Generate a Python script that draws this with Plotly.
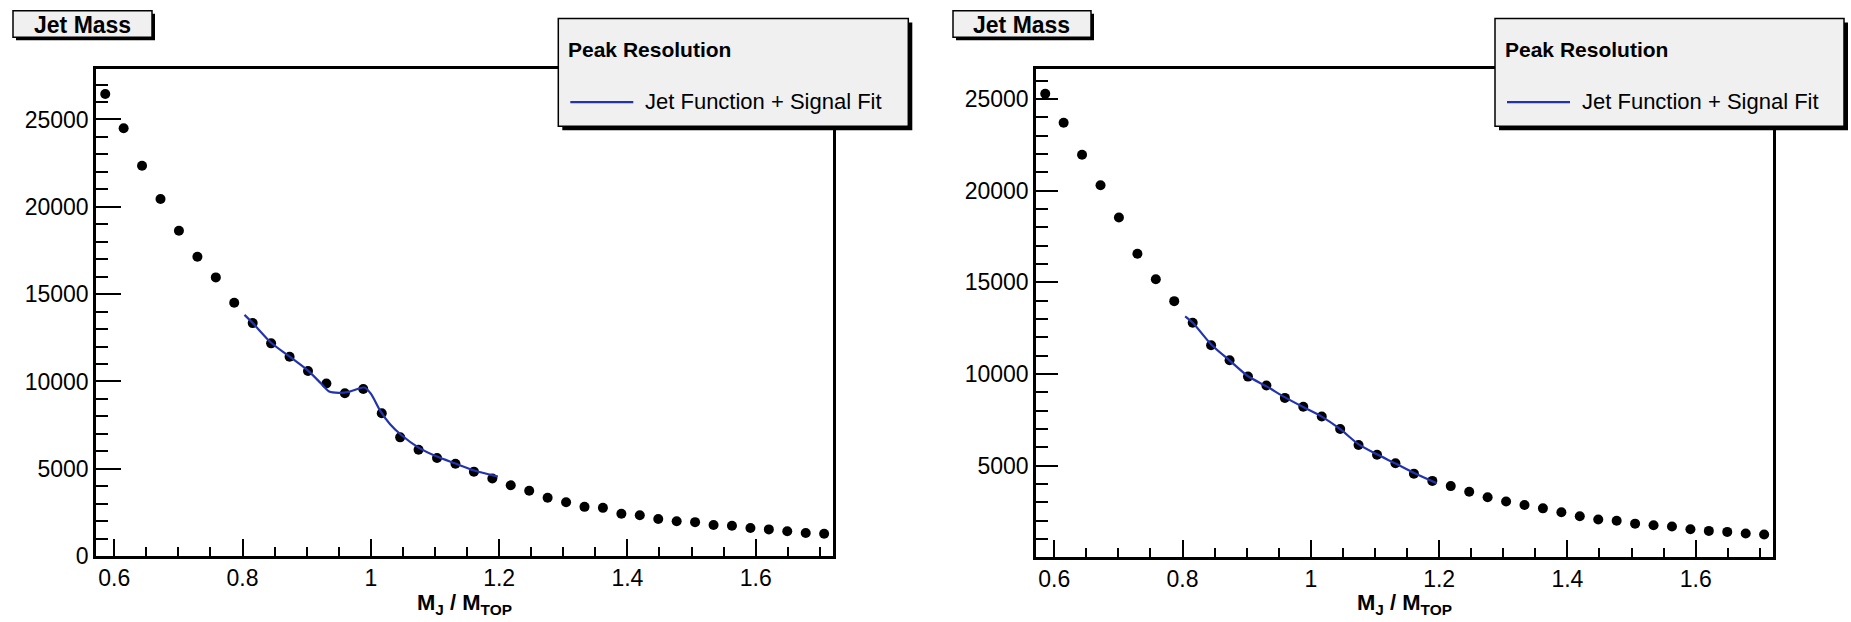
import plotly.graph_objects as go

W, H = 1851, 622

# ---------------- data ----------------
x_centers = [0.5859, 0.6146, 0.6433, 0.6721, 0.7008, 0.7296, 0.7583, 0.7870,
             0.8158, 0.8445, 0.8733, 0.9020, 0.9307, 0.9595, 0.9882, 1.0170,
             1.0457, 1.0744, 1.1032, 1.1319, 1.1607, 1.1894, 1.2181, 1.2469,
             1.2756, 1.3044, 1.3331, 1.3618, 1.3906, 1.4193, 1.4481, 1.4768,
             1.5055, 1.5343, 1.5630, 1.5918, 1.6205, 1.6492, 1.6780, 1.7067]

left_counts = [26457, 24496, 22348, 20442, 18627, 17135, 15958, 14510,
               13341, 12181, 11418, 10594, 9882, 9322, 9568, 8184,
               6800, 6093, 5622, 5286, 4838, 4446, 4053, 3739,
               3346, 3083, 2820, 2763, 2427, 2337, 2130, 2001,
               1945, 1777, 1738, 1609, 1530, 1420, 1320, 1280]

right_counts = [25294, 23711, 21963, 20305, 18540, 16561, 15171, 13979,
                12802, 11572, 10749, 9861, 9380, 8701, 8219, 7684,
                7005, 6134, 5599, 5134, 4567, 4171, 3888, 3583,
                3283, 3048, 2856, 2674, 2460, 2246, 2070, 2000,
                1840, 1749, 1679, 1535, 1444, 1390, 1305, 1251]

fit_left_x = [0.803, 0.816, 0.845, 0.873, 0.902, 0.922, 0.935, 0.950, 0.967,
              0.980, 0.990, 1.000, 1.015, 1.030, 1.047, 1.075, 1.103, 1.132,
              1.161, 1.198]
fit_left_y = [13810, 13340, 12200, 11430, 10620, 9900, 9420, 9350, 9420,
              9580, 9650, 9300, 8300, 7550, 6950, 6200, 5700, 5300,
              4900, 4550]

fit_right_x = [0.804, 0.816, 0.845, 0.873, 0.902, 0.931, 0.959, 0.988, 1.017,
               1.046, 1.074, 1.103, 1.132, 1.161, 1.196]
fit_right_y = [13150, 12800, 11600, 10750, 9880, 9330, 8740, 8200, 7680,
               6990, 6180, 5620, 5120, 4600, 4050]

panel_title = "Jet Mass"
legend_header = "Peak Resolution"
fit_name = "Jet Function + Signal Fit"
x_title = "M<sub>J</sub> / M<sub>TOP</sub>"

FONT = "Liberation Sans, Arial, Helvetica, sans-serif"
BLUE = "#2233b0"


def px(x):
    return x / W


def py(y):
    return 1 - y / H


fig = go.Figure()

for i, (counts, fx, fy) in enumerate([(left_counts, fit_left_x, fit_left_y),
                                      (right_counts, fit_right_x, fit_right_y)]):
    xa = "x" if i == 0 else "x2"
    ya = "y" if i == 0 else "y2"
    fig.add_trace(go.Scatter(x=x_centers, y=counts, mode="markers",
                             marker=dict(color="black", size=10),
                             xaxis=xa, yaxis=ya, showlegend=False, name="Jet Mass"))
    fig.add_trace(go.Scatter(x=fx, y=fy, mode="lines",
                             line=dict(color=BLUE, width=2.2, shape="spline", smoothing=0.7),
                             xaxis=xa, yaxis=ya, showlegend=False, name=fit_name))

axis_common = dict(showline=True, linecolor="black", linewidth=2.5, mirror=True,
                   ticks="inside", tickcolor="black", tickwidth=2,
                   showgrid=False, zeroline=False,
                   tickfont=dict(family=FONT, size=23, color="black"))

xcommon = dict(axis_common, tick0=0.6, dtick=0.2, ticklen=17,
               range=[0.5715, 1.721],
               minor=dict(ticks="inside", ticklen=9, tick0=0.6, dtick=0.05,
                          tickwidth=2, tickcolor="black", showgrid=False))

fig.update_layout(
    width=W, height=H,
    margin=dict(l=0, r=0, t=0, b=0),
    paper_bgcolor="white", plot_bgcolor="white",
    xaxis=dict(xcommon, domain=[px(96), px(833.3)], anchor="y"),
    yaxis=dict(axis_common, domain=[py(568), py(70)], anchor="x",
               range=[0, 27915], tick0=0, dtick=5000, tickformat="d", ticklen=25,
               minor=dict(ticks="inside", ticklen=12, tick0=0, dtick=1000,
                          tickwidth=2, tickcolor="black", showgrid=False)),
    xaxis2=dict(xcommon, domain=[px(1036), px(1773.3)], anchor="y2"),
    yaxis2=dict(axis_common, domain=[py(568.7), py(70)], anchor="x2",
                range=[30, 26668], tick0=0, dtick=5000, tickformat="d", ticklen=22,
                minor=dict(ticks="inside", ticklen=12, tick0=0, dtick=1000,
                           tickwidth=2, tickcolor="black", showgrid=False)),
)

shapes = []
annotations = []


def box(x0, y0, x1, y1, shadow):
    shapes.append(dict(type="rect", xref="paper", yref="paper",
                       x0=px(x0 + shadow), x1=px(x1 + shadow),
                       y0=py(y1 + shadow), y1=py(y0 + shadow),
                       fillcolor="black", line=dict(width=0), layer="above"))
    shapes.append(dict(type="rect", xref="paper", yref="paper",
                       x0=px(x0), x1=px(x1), y0=py(y1), y1=py(y0),
                       fillcolor="#f0f0f0", line=dict(color="black", width=1.5),
                       layer="above"))


def text(x, y, s, size, xanchor="left", bold=False):
    annotations.append(dict(xref="paper", yref="paper", x=px(x), y=py(y),
                            text=("<b>%s</b>" % s) if bold else s,
                            showarrow=False, xanchor=xanchor, yanchor="middle",
                            font=dict(family=FONT, size=size, color="black")))


# title boxes
for (bx0, bx1) in [(13, 152), (953, 1091)]:
    box(bx0, 11, bx1, 38, 3)
    text((bx0 + bx1) / 2, 25.5, panel_title, 23, xanchor="center", bold=True)

# legend boxes
for (lx0, lx1) in [(558.3, 908.3), (1495, 1844)]:
    box(lx0, 19, lx1, 129, 4)
    text(lx0 + 8, 51, legend_header, 21, bold=True)
    shapes.append(dict(type="line", xref="paper", yref="paper",
                       x0=px(lx0 + 12), x1=px(lx0 + 75), y0=py(104.3), y1=py(104.3),
                       line=dict(color=BLUE, width=2.2), layer="above"))
    text(lx0 + 85, 104, fit_name, 22)

# x-axis titles
for cx in [464.6, 1404.6]:
    annotations.append(dict(xref="paper", yref="paper", x=px(cx), y=py(601),
                            text="<b>%s</b>" % x_title, showarrow=False,
                            xanchor="center", yanchor="top",
                            font=dict(family=FONT, size=22, color="black")))

fig.update_layout(shapes=shapes, annotations=annotations)

fig.write_html("out.html")
